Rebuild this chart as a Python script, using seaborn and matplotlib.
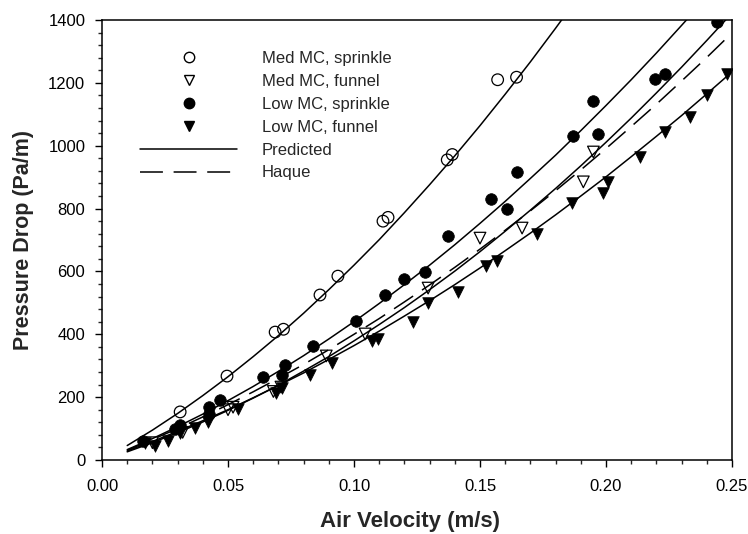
import matplotlib
matplotlib.use("Agg")
import matplotlib.pyplot as plt
from matplotlib.lines import Line2D
from matplotlib.ticker import MultipleLocator
import pandas as pd
import seaborn as sns

# measured data
med_sprinkle_x = [0.031, 0.0496, 0.0687, 0.072, 0.0865, 0.0936, 0.1115, 0.1135, 0.137, 0.139, 0.157, 0.1645]
med_sprinkle_y = [153, 267, 407, 416, 525, 585, 760, 772, 955, 972, 1210, 1218]

med_funnel_x = [0.02, 0.032, 0.05, 0.052, 0.068, 0.071, 0.089, 0.1044, 0.1294, 0.150, 0.1667, 0.191, 0.195]
med_funnel_y = [55, 88, 160, 168, 218, 232, 331, 401, 547, 706, 738, 885, 980]

low_sprinkle_x = [0.0163, 0.029, 0.031, 0.0425, 0.0425, 0.047, 0.064, 0.0714, 0.0726, 0.0837, 0.1008,
                  0.1123, 0.12, 0.128, 0.1374, 0.1544, 0.1606, 0.1646, 0.187, 0.195, 0.197, 0.2195, 0.2234, 0.244]
low_sprinkle_y = [62, 100, 110, 170, 145, 192, 265, 272, 302, 363, 443,
                  525, 576, 598, 713, 830, 799, 916, 1031, 1142, 1037, 1212, 1228, 1394]

low_funnel_x = [0.017, 0.021, 0.026, 0.031, 0.037, 0.042, 0.054, 0.069, 0.0715, 0.0825, 0.0912, 0.107, 0.1096,
                0.1234, 0.1294, 0.1414, 0.1523, 0.1566, 0.1725, 0.1865, 0.199, 0.2008, 0.2135, 0.2234, 0.2333, 0.240, 0.248]
low_funnel_y = [55, 45, 62, 85, 102, 120, 163, 213, 228, 270, 309, 379, 385,
                440, 500, 535, 616, 634, 719, 818, 850, 885, 965, 1044, 1092, 1161, 1228]

# model curves
curve_x = [0.01, 0.02, 0.03, 0.04, 0.05, 0.06, 0.07, 0.08, 0.09, 0.10, 0.11, 0.12, 0.13,
           0.14, 0.15, 0.16, 0.17, 0.18, 0.19, 0.20, 0.21, 0.22, 0.23, 0.24, 0.25]
pred_med_sprinkle = [46, 95, 148, 205, 265, 329, 396, 467, 542, 620, 701, 787, 876,
                     968, 1064, 1164, 1267, 1374, 1484]
pred_low_sprinkle = [33, 68, 106, 146, 189, 234, 282, 332, 385, 440, 498, 558, 620,
                     685, 753, 823, 896, 970, 1048, 1128, 1210, 1295, 1383, 1472]
pred_med_funnel = [26, 55, 87, 121, 158, 197, 238, 283, 329, 379, 431, 485, 542,
                   601, 663, 728, 795, 864, 936, 1011, 1088, 1168, 1250, 1335, 1422]
pred_low_funnel = [29, 59, 91, 125, 160, 198, 237, 277, 320, 364, 410, 458, 507,
                   558, 611, 666, 722, 780, 840, 901, 965, 1030, 1096, 1165, 1235]
haque = [31, 65, 100, 137, 176, 217, 260, 304, 351, 400, 450, 503, 557,
         613, 671, 731, 793, 857, 923, 991, 1061, 1132, 1206, 1281, 1359]

sns.set_theme(style="ticks")
plt.rcParams['font.family'] = ['Liberation Sans', 'DejaVu Sans']

fig = plt.figure(figsize=(7.48, 5.34), dpi=100)
ax = fig.add_axes([0.1364, 0.1386, 0.8422, 0.8239])

for ys in [pred_med_sprinkle, pred_low_sprinkle, pred_med_funnel, pred_low_funnel]:
    d = pd.DataFrame({'x': curve_x[:len(ys)], 'y': ys})
    sns.lineplot(data=d, x='x', y='y', ax=ax, color='black', linewidth=1.1,
                 estimator=None, sort=False)
d = pd.DataFrame({'x': curve_x, 'y': haque})
sns.lineplot(data=d, x='x', y='y', ax=ax, color='black', linewidth=1.1,
             estimator=None, sort=False, dashes=False, linestyle=(0, (15, 7)))

ms = 70
sns.scatterplot(x=med_sprinkle_x, y=med_sprinkle_y, ax=ax, marker='o', s=ms,
                facecolor='none', edgecolor='black', linewidth=0.9, zorder=3)
sns.scatterplot(x=med_funnel_x, y=med_funnel_y, ax=ax, marker='v', s=ms,
                facecolor='none', edgecolor='black', linewidth=0.9, zorder=3)
sns.scatterplot(x=low_sprinkle_x, y=low_sprinkle_y, ax=ax, marker='o', s=ms,
                color='black', edgecolor='black', linewidth=0.5, zorder=3)
sns.scatterplot(x=low_funnel_x, y=low_funnel_y, ax=ax, marker='v', s=ms,
                color='black', edgecolor='black', linewidth=0.5, zorder=3)

ax.set_xlim(0, 0.25)
ax.set_ylim(0, 1400)
ax.xaxis.set_major_locator(MultipleLocator(0.05))
ax.xaxis.set_minor_locator(MultipleLocator(0.01))
ax.yaxis.set_major_locator(MultipleLocator(200))
ax.yaxis.set_minor_locator(MultipleLocator(40))
ax.xaxis.set_major_formatter(lambda v, p: f"{v:.2f}")
ax.tick_params(which='major', direction='out', length=5, width=1, labelsize=12, colors='black')
ax.tick_params(axis='x', which='major', pad=8.5)
ax.tick_params(axis='y', which='major', pad=7)
ax.tick_params(which='minor', direction='out', length=3, width=1)
for s in ax.spines.values():
    s.set_color('black')
    s.set_linewidth(1.1)

ax.set_xlabel("Air Velocity (m/s)", fontsize=16, fontweight='bold')
ax.xaxis.set_label_coords(0.489, -0.116)
ax.set_ylabel("Pressure Drop (Pa/m)", fontsize=15.5, fontweight='bold', labelpad=10)

handles = [
    Line2D([], [], marker='o', linestyle='none', markerfacecolor='none', markeredgecolor='black', markersize=7.5),
    Line2D([], [], marker='v', linestyle='none', markerfacecolor='none', markeredgecolor='black', markersize=7.5),
    Line2D([], [], marker='o', linestyle='none', color='black', markersize=7.5),
    Line2D([], [], marker='v', linestyle='none', color='black', markersize=7.5),
    Line2D([], [], color='black', linewidth=1.1),
    Line2D([], [], color='black', linewidth=1.1, linestyle=(0, (15, 7))),
]
labels = ["Med MC, sprinkle", "Med MC, funnel", "Low MC, sprinkle", "Low MC, funnel", "Predicted", "Haque"]
ax.legend(handles, labels, loc='upper left', bbox_to_anchor=(0.037, 0.963), frameon=False,
          fontsize=12, handlelength=5.8, handletextpad=1.5, labelspacing=0.47, numpoints=1)

fig.savefig("out.png", dpi=100)
